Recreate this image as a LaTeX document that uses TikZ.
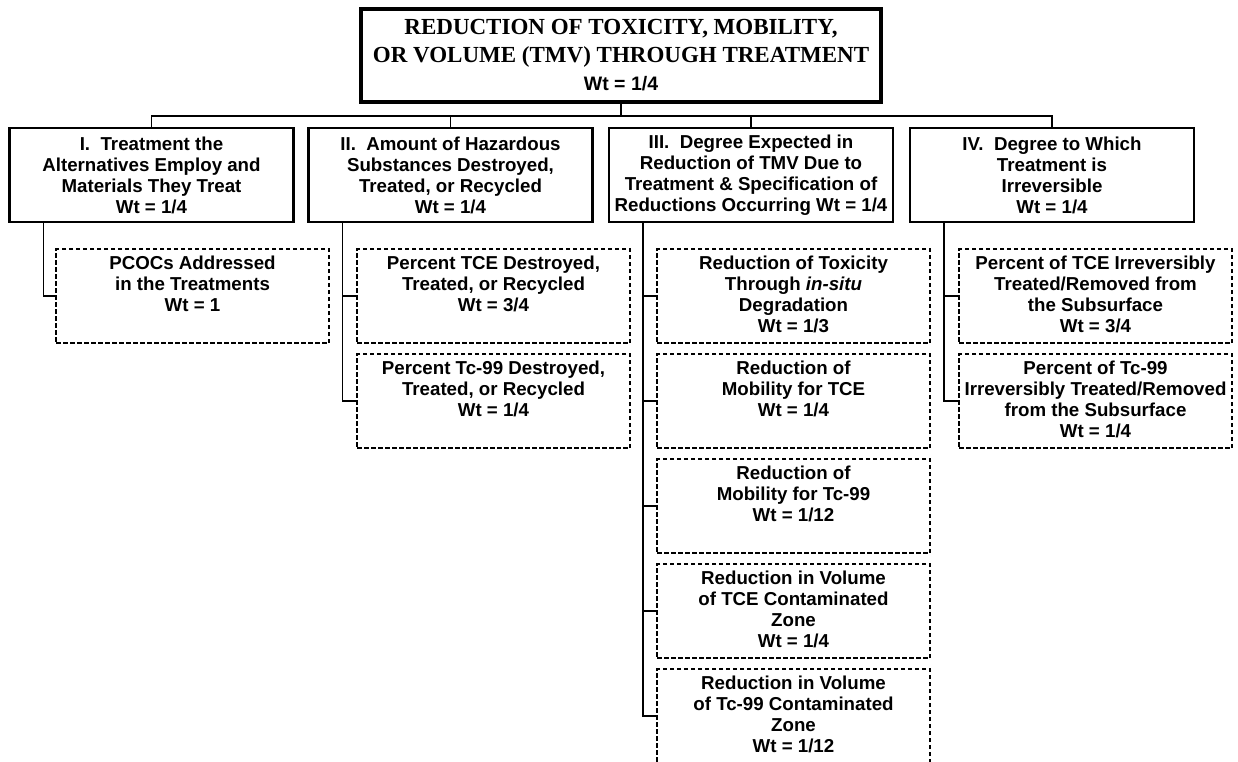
\documentclass[tikz,border=0pt]{standalone}
\usepackage{fontspec}
\setmainfont{Liberation Sans}
\newfontfamily\titlefont{Liberation Serif}
\usetikzlibrary{calc}
\begin{document}
\begin{tikzpicture}[x=1pt,y=-1pt,
  topbox/.style={draw, line width=4pt, minimum width=520pt, minimum height=93pt,
    inner sep=0pt, align=center, font=\titlefont\bfseries\fontsize{23}{28}\selectfont},
  headbox/.style={draw, line width=2.4pt, minimum width=284pt, minimum height=94pt,
    inner sep=0pt, align=center, font=\bfseries\fontsize{18.7}{21}\selectfont},
  subbox/.style={draw, line width=2pt, dash pattern=on 4.5pt off 2.5pt,
    minimum width=273pt, minimum height=94pt, inner sep=0pt},
  subtext/.style={anchor=north, inner sep=0pt, align=center,
    font=\bfseries\fontsize{18.7}{21}\selectfont},
  link/.style={line width=1.6pt}
]
\useasboundingbox (0,0) rectangle (1238,761);
\clip (0,0) rectangle (1238,761);

% top criterion
\node[topbox] (top) at (621,55)
  {REDUCTION OF TOXICITY, MOBILITY,\\OR VOLUME (TMV) THROUGH TREATMENT\\
   {\normalfont\bfseries\fontsize{19.5}{28}\selectfont Wt = 1/4}};

% second-level criteria
\node[headbox] (h1) at (151.5,175) {I.\ \ Treatment the\\Alternatives Employ and\\Materials They Treat\\Wt = 1/4};
\node[headbox] (h2) at (450.5,175) {II.\ \ Amount of Hazardous\\Substances Destroyed,\\Treated, or Recycled\\Wt = 1/4};
\node[headbox] (h3) at (751,175) {III.\ \ Degree Expected in\\Reduction of TMV Due to\\Treatment \& Specification of\\Reductions Occurring Wt = 1/4};
\node[headbox] (h4) at (1052,175) {IV.\ \ Degree to Which\\Treatment is\\Irreversible\\Wt = 1/4};

% bus from the top criterion to the four columns
\coordinate (bus) at (0,116);
\draw[link] (top.south) -- (top.south |- bus);
\draw[link] (h1.north) -- (h1.north |- bus) -- (h4.north |- bus) -- (h4.north);
\draw[link] (h2.north) -- (h2.north |- bus);
\draw[link] (h3.north) -- (h3.north |- bus);

% column I
\node[subbox] (s1a) at (192.5,296) {};
\node[subtext] (s1a-t) at ($(s1a.north)+(0,7.5)$) {PCOCs Addressed\\in the Treatments\\Wt = 1};

% column II
\node[subbox] (s2a) at (493.5,296) {};
\node[subtext] (s2a-t) at ($(s2a.north)+(0,7.5)$) {Percent TCE Destroyed,\\Treated, or Recycled\\Wt = 3/4};
\node[subbox] (s2b) at (493.5,401) {};
\node[subtext] (s2b-t) at ($(s2b.north)+(0,7.5)$) {Percent Tc-99 Destroyed,\\Treated, or Recycled\\Wt = 1/4};

% column III
\node[subbox] (s3a) at (793.5,296) {};
\node[subtext] (s3a-t) at ($(s3a.north)+(0,7.5)$) {Reduction of Toxicity\\Through \textit{in-situ}\\Degradation\\Wt = 1/3};
\node[subbox] (s3b) at (793.5,401) {};
\node[subtext] (s3b-t) at ($(s3b.north)+(0,7.5)$) {Reduction of\\Mobility for TCE\\Wt = 1/4};
\node[subbox] (s3c) at (793.5,506) {};
\node[subtext] (s3c-t) at ($(s3c.north)+(0,7.5)$) {Reduction of\\Mobility for Tc-99\\Wt = 1/12};
\node[subbox] (s3d) at (793.5,611) {};
\node[subtext] (s3d-t) at ($(s3d.north)+(0,7.5)$) {Reduction in Volume\\of TCE Contaminated\\Zone\\Wt = 1/4};
\node[subbox] (s3e) at (793.5,716) {};
\node[subtext] (s3e-t) at ($(s3e.north)+(0,7.5)$) {Reduction in Volume\\of Tc-99 Contaminated\\Zone\\Wt = 1/12};

% column IV
\node[subbox] (s4a) at (1095.5,296) {};
\node[subtext] (s4a-t) at ($(s4a.north)+(0,7.5)$) {Percent of TCE Irreversibly\\Treated/Removed from\\the Subsurface\\Wt = 3/4};
\node[subbox] (s4b) at (1095.5,401) {};
\node[subtext] (s4b-t) at ($(s4b.north)+(0,7.5)$) {Percent of Tc-99\\Irreversibly Treated/Removed\\from the Subsurface\\Wt = 1/4};

% elbow connectors from each column head to its sub-criteria
\coordinate (b1) at ($(h1.south west)+(35,0)$);
\coordinate (b2) at ($(h2.south west)+(35,0)$);
\coordinate (b3) at ($(h3.south west)+(35,0)$);
\coordinate (b4) at ($(h4.south west)+(35,0)$);
\draw[link] (b1) |- (s1a.west);
\draw[link] (b2) |- (s2a.west);
\draw[link] (b2) |- (s2b.west);
\draw[link] (b3) |- (s3a.west);
\draw[link] (b3) |- (s3b.west);
\draw[link] (b3) |- (s3c.west);
\draw[link] (b3) |- (s3d.west);
\draw[link] (b3) |- (s3e.west);
\draw[link] (b4) |- (s4a.west);
\draw[link] (b4) |- (s4b.west);
\end{tikzpicture}
\end{document}
